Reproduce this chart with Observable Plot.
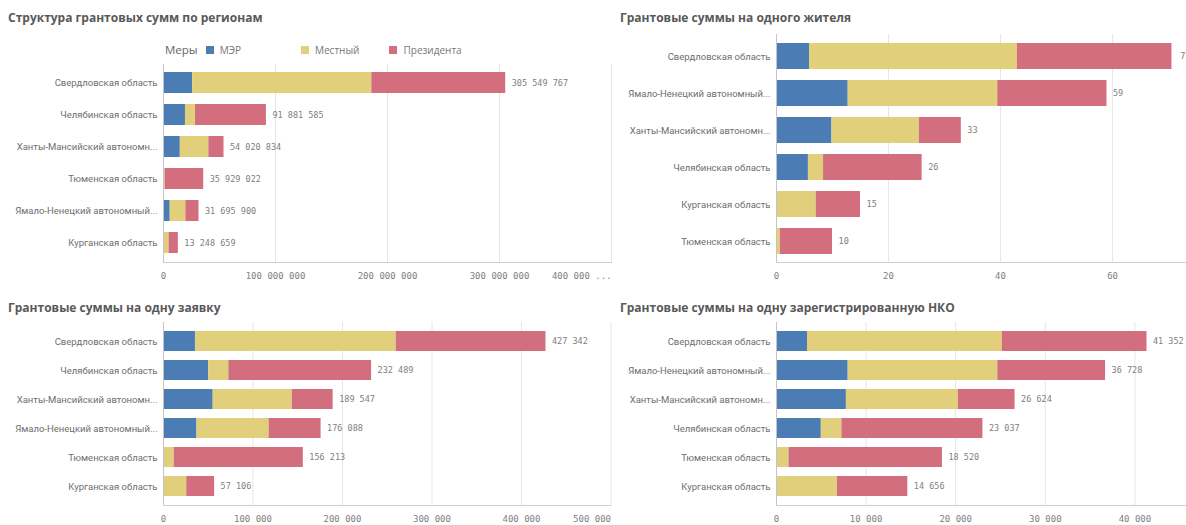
<!DOCTYPE html>
<html>
<head>
<meta charset="utf-8">
<script src="https://cdn.jsdelivr.net/npm/d3@7"></script>
<script src="https://cdn.jsdelivr.net/npm/@observablehq/plot@0.6"></script>
<style>
  body { margin: 0; background: #fff; width: 1186px; height: 525px; overflow: hidden; position: relative; font-family: "Open Sans", sans-serif; }
  .title { position: absolute; font-weight: bold; font-size: 12px; line-height: 16px; color: #595959; white-space: nowrap; }
  .panel { position: absolute; }
  .legend { position: absolute; left: 165px; top: 42px; font-size: 10px; color: #777; display: flex; align-items: center; white-space: nowrap; }
  .legend .head { font-size: 11.5px; color: #666; margin-right: 8px; }
  .legend .sw { display: inline-block; width: 8px; height: 8px; margin-right: 6px; }
</style>
</head>
<body>
<script>
// ---------- DATA ----------
const measures = ["МЭР", "Местный", "Президента"];
const colors = ["#4b7db4", "#e1cf7c", "#d26e7e"];

// Panel 1: Структура грантовых сумм по регионам (руб.)
const regions1 = ["Свердловская область", "Челябинская область", "Ханты-Мансийский автономн...", "Тюменская область", "Ямало-Ненецкий автономный...", "Курганская область"];
const mer1 = [26000000, 19600000, 15000000, 0, 6000000, 0];
const local1 = [160000000, 9000000, 25500000, 1500000, 14000000, 5000000];
const pres1 = [119549767, 63281585, 13520834, 34429022, 11695900, 8248659];
const totals1 = [305549767, 91881585, 54020834, 35929022, 31695900, 13248659];
const ticks1 = [0, 100000000, 200000000, 300000000];
const lastTick1 = 400000000;

// Panel 2: Грантовые суммы на одного жителя
const regions2 = ["Свердловская область", "Ямало-Ненецкий автономный...", "Ханты-Мансийский автономн...", "Челябинская область", "Курганская область", "Тюменская область"];
const mer2 = [5.9, 12.8, 9.9, 5.7, 0, 0];
const local2 = [37.1, 26.7, 15.6, 2.7, 7.1, 0.7];
const pres2 = [27.6, 19.5, 7.5, 17.6, 7.9, 9.3];
const totals2 = [71, 59, 33, 26, 15, 10];
const ticks2 = [0, 20, 40, 60];

// Panel 3: Грантовые суммы на одну заявку
const regions3 = ["Свердловская область", "Челябинская область", "Ханты-Мансийский автономн...", "Ямало-Ненецкий автономный...", "Тюменская область", "Курганская область"];
const mer3 = [35700, 50600, 55500, 37400, 0, 0];
const local3 = [224300, 22400, 88500, 80600, 12000, 26000];
const pres3 = [167342, 159489, 45547, 58088, 144213, 31106];
const totals3 = [427342, 232489, 189547, 176088, 156213, 57106];
const ticks3 = [0, 100000, 200000, 300000, 400000];
const lastTick3 = 500000;

// Panel 4: Грантовые суммы на одну зарегистрированную НКО
const regions4 = ["Свердловская область", "Ямало-Ненецкий автономный...", "Ханты-Мансийский автономн...", "Челябинская область", "Тюменская область", "Курганская область"];
const mer4 = [3460, 8000, 7800, 5000, 0, 0];
const local4 = [21740, 16700, 12500, 2300, 1400, 6800];
const pres4 = [16152, 12028, 6324, 15737, 17120, 7856];
const totals4 = [41352, 36728, 26624, 23037, 18520, 14656];
const ticks4 = [0, 10000, 20000, 30000, 40000];

// ---------- HELPERS ----------
const fmt = d => d3.format(",")(d).replace(/,/g, " ");
const mono = "DejaVu Sans Mono, monospace";

function addTitle(text, left, top) {
  const t = document.createElement("div");
  t.className = "title";
  t.style.left = left + "px";
  t.style.top = top + "px";
  t.textContent = text;
  document.body.appendChild(t);
}

function panel(o) {
  const rows = [];
  o.regions.forEach((r, i) => {
    rows.push({region: r, measure: measures[0], value: o.mer[i]});
    rows.push({region: r, measure: measures[1], value: o.local[i]});
    rows.push({region: r, measure: measures[2], value: o.pres[i]});
  });
  const totalRows = o.regions.map((r, i) => ({region: r, total: o.totals[i]}));
  const gridTicks = o.ticks.filter(t => t !== 0).concat(o.lastTick != null ? [o.lastTick] : []);
  const marks = [
    Plot.gridX({ticks: gridTicks, stroke: "#e6e6e6", strokeOpacity: 1}),
    Plot.barX(rows, Plot.stackX({x: "value", y: "region", fill: "measure"})),
    Plot.ruleX([0], {stroke: "#c4c4c4"}),
    Plot.frame({anchor: "bottom", stroke: "#d0d0d0"}),
    Plot.text(totalRows, {x: "total", y: "region", text: d => fmt(d.total), dx: 6, textAnchor: "start", fill: "#808080", fontFamily: mono, fontSize: 8.5}),
    Plot.axisY({tickSize: 0, tickPadding: 6, fontSize: 9.5, fill: "#6e6e6e", label: null}),
    Plot.axisX({ticks: o.ticks, tickSize: 0, tickPadding: 10, tickFormat: fmt, fontFamily: mono, fontSize: 9, fill: "#808080", label: null})
  ];
  if (o.lastTick != null) {
    marks.push(Plot.axisX({ticks: [o.lastTick], tickSize: 0, tickPadding: 10, tickFormat: () => o.lastText, textAnchor: "end", fontFamily: mono, fontSize: 9, fill: "#808080", label: null}));
  }
  const chart = Plot.plot({
    width: o.width, height: o.height,
    marginLeft: o.marginLeft, marginRight: o.marginRight, marginTop: o.marginTop, marginBottom: o.marginBottom,
    x: {domain: o.domain, label: null},
    y: {domain: o.regions, paddingInner: o.pi, paddingOuter: o.po, label: null},
    color: {domain: measures, range: colors},
    style: {fontFamily: "Roboto, sans-serif", background: "transparent", color: "#6e6e6e", overflow: "hidden"},
    marks
  });
  const wrap = document.createElement("div");
  wrap.className = "panel";
  wrap.style.left = o.left + "px";
  wrap.style.top = o.top + "px";
  wrap.appendChild(chart);
  document.body.appendChild(wrap);
}

// ---------- TITLES ----------
addTitle("Структура грантовых сумм по регионам", 8, 10);
addTitle("Грантовые суммы на одного жителя", 620, 10);
addTitle("Грантовые суммы на одну заявку", 8, 300);
addTitle("Грантовые суммы на одну зарегистрированную НКО", 620, 300);

// ---------- LEGEND ----------
const lg = document.createElement("div");
lg.className = "legend";
lg.innerHTML = `<span class="head">Меры</span>` + measures.map((m, i) =>
  `<span class="sw" style="background:${colors[i]}"></span><span style="margin-right:${i === 0 ? 60 : i === 1 ? 30 : 0}px">${m}</span>`).join("");
document.body.appendChild(lg);

// ---------- PANELS ----------
panel({regions: regions1, mer: mer1, local: local1, pres: pres1, totals: totals1,
  domain: [0, 400000000], ticks: ticks1, lastTick: lastTick1, lastText: "400 000 ...",
  left: 0, top: 40, width: 620, height: 250, marginLeft: 163, marginRight: 9, marginTop: 24, marginBottom: 28, pi: 0.33, po: 0.18});

panel({regions: regions2, mer: mer2, local: local2, pres: pres2, totals: totals2,
  domain: [0, 73.2], ticks: ticks2,
  left: 600, top: 30, width: 586, height: 260, marginLeft: 176, marginRight: 0, marginTop: 4, marginBottom: 28, pi: 0.31, po: 0.186});

panel({regions: regions3, mer: mer3, local: local3, pres: pres3, totals: totals3,
  domain: [0, 500000], ticks: ticks3, lastTick: lastTick3, lastText: "500 000",
  left: 0, top: 315, width: 620, height: 210, marginLeft: 163, marginRight: 9.5, marginTop: 7, marginBottom: 20, pi: 0.31, po: 0.236});

panel({regions: regions4, mer: mer4, local: local4, pres: pres4, totals: totals4,
  domain: [0, 45760], ticks: ticks4,
  left: 600, top: 315, width: 586, height: 210, marginLeft: 176, marginRight: 0, marginTop: 7, marginBottom: 20, pi: 0.31, po: 0.236});
</script>
</body>
</html>
